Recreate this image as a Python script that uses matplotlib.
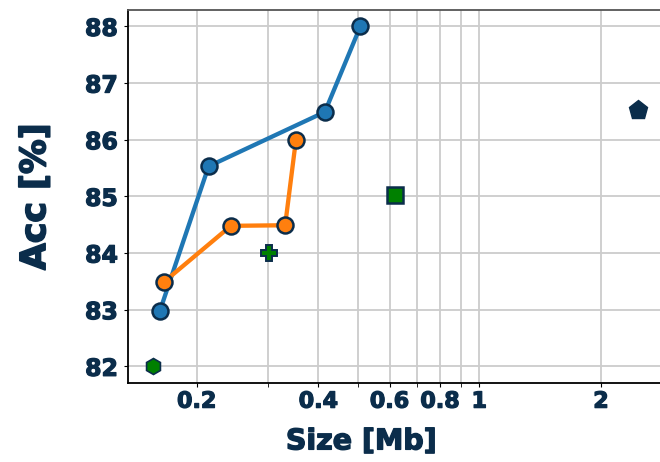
import matplotlib
matplotlib.use("Agg")
import matplotlib.pyplot as plt
import matplotlib.patheffects as pe
from matplotlib.ticker import FixedLocator, FixedFormatter, NullFormatter

NAVY = "#0b2d4b"
plt.rcParams['font.family'] = ['DejaVu Sans']
W = 'bold'
HEAVY = [pe.withStroke(linewidth=0.9, foreground=NAVY)]

# data
blue_size = [0.162, 0.214, 0.415, 0.508]
blue_acc = [82.97, 85.53, 86.49, 88.0]
orange_size = [0.166, 0.243, 0.331, 0.352]
orange_acc = [83.49, 84.48, 84.49, 86.0]
plus_size, plus_acc = [0.302], [84.0]
square_size, square_acc = [0.619], [85.02]
hex_size, hex_acc = [0.156], [82.0]
pent_size, pent_acc = [2.47], [86.53]

xticks = [0.2, 0.4, 0.6, 0.8, 1, 2]
xtick_labels = ["0.2", "0.4", "0.6", "0.8", "1", "2"]
xminor = [0.3, 0.5, 0.7, 0.9]
yticks = [82, 83, 84, 85, 86, 87, 88]

fig = plt.figure(figsize=(6.6, 4.62), dpi=100)
ax = fig.add_axes([0.1935, 0.1703, 0.8065, 0.8081])
ax.set_xscale('log')

ax.plot(blue_size, blue_acc, '-o', color='#1f77b4', lw=3.1, ms=11.5,
        mec=NAVY, mew=1.8, zorder=3)
ax.plot(orange_size, orange_acc, '-o', color='#ff7f0e', lw=3.1, ms=11.5,
        mec=NAVY, mew=1.8, zorder=3)
ax.plot(plus_size, plus_acc, 'P', color='green', ms=11.5, mec=NAVY, mew=1.4, zorder=4)
ax.plot(square_size, square_acc, 's', color='green', ms=11, mec=NAVY, mew=1.8, zorder=4)
ax.plot(hex_size, hex_acc, 'h', color='green', ms=11.5, mec=NAVY, mew=1.2, zorder=4)
ax.plot(pent_size, pent_acc, 'p', color=NAVY, ms=14, mec=NAVY, mew=1, zorder=4)

ax.set_xlim(0.135, 2.8)
ax.set_ylim(81.70, 88.29)

ax.xaxis.set_major_locator(FixedLocator(xticks))
ax.xaxis.set_major_formatter(FixedFormatter(xtick_labels))
ax.xaxis.set_minor_locator(FixedLocator(xminor))
ax.xaxis.set_minor_formatter(NullFormatter())
ax.set_yticks(yticks)

ax.grid(True, which='both', color='#cccccc', lw=1.3, zorder=0)
ax.set_axisbelow(True)

ax.tick_params(axis='x', which='both', labelsize=16, colors=NAVY, length=3, color='black', pad=3)
ax.tick_params(axis='y', labelsize=17, colors=NAVY, length=3, color='black', pad=4)
for lab in ax.get_xticklabels() + ax.get_yticklabels():
    lab.set_color(NAVY)
    lab.set_fontweight(W)
    lab.set_path_effects(HEAVY)

ax.spines['right'].set_visible(False)
ax.spines['top'].set_color('#555555')
ax.spines['left'].set_color('black')
ax.spines['bottom'].set_color('black')
for s in ax.spines.values():
    s.set_linewidth(1.3)

xl = ax.set_xlabel('Size [Mb]', fontsize=20.5, fontweight=W, color=NAVY)
ax.xaxis.set_label_coords(0.439, -0.118)
yl = ax.set_ylabel('Acc [%]', fontsize=25, fontweight=W, color=NAVY)
ax.yaxis.set_label_coords(-0.142, 0.5)
xl.set_path_effects([pe.withStroke(linewidth=1.0, foreground=NAVY)])
yl.set_path_effects([pe.withStroke(linewidth=1.2, foreground=NAVY)])

fig.savefig('out.png', dpi=100)
